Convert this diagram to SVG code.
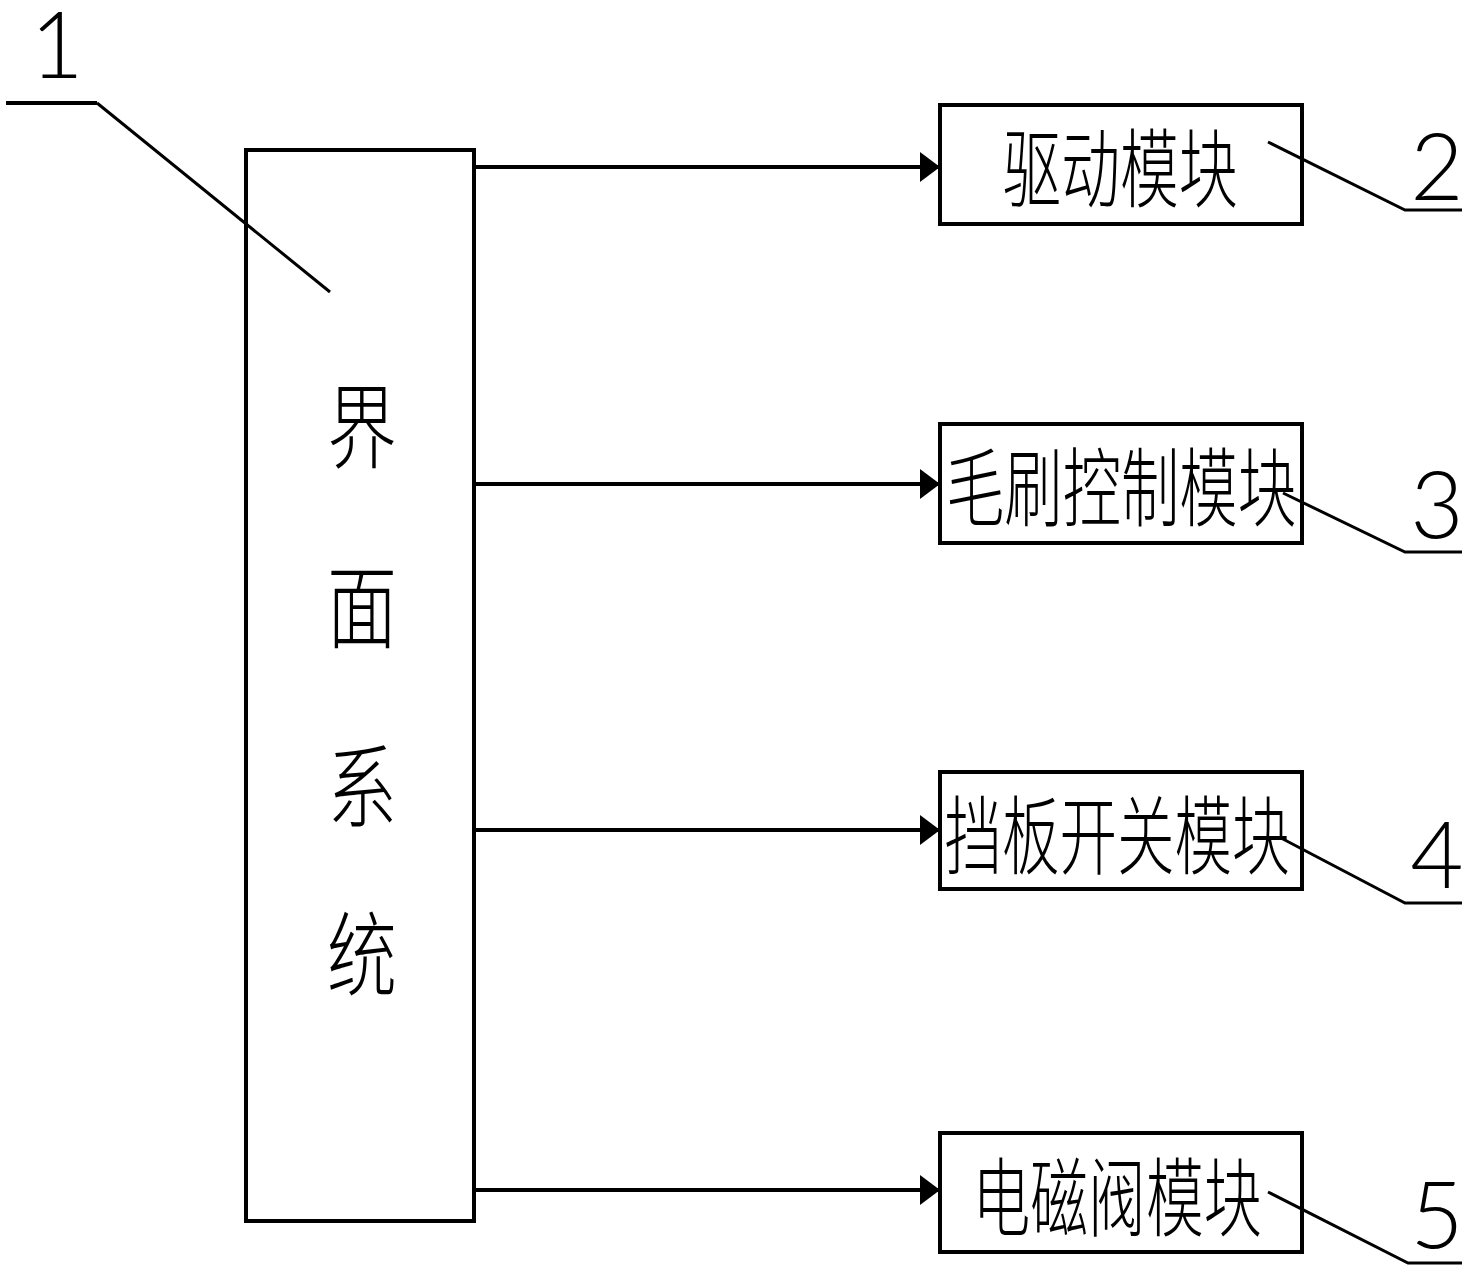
<svg xmlns="http://www.w3.org/2000/svg" width="1471" height="1275" viewBox="0 0 1471 1275">
<style>
.box{fill:#fff;stroke:#000;stroke-width:4}
.ln{fill:none;stroke:#000;stroke-width:4}
.ld{fill:none;stroke:#000;stroke-width:3}
.cjk{font-family:"Noto Sans CJK SC","Noto Sans CJK JP",sans-serif;font-weight:300;fill:#000;text-anchor:middle;dominant-baseline:central}
.num{font-family:Lato,"Liberation Sans",sans-serif;font-weight:300;font-size:92px;fill:#000;text-anchor:middle}
</style>
<defs>
<marker id="ah" markerWidth="24" markerHeight="32" refX="22" refY="16" orient="auto" markerUnits="userSpaceOnUse">
<path d="M2,1 L22,16 L2,31 Z" fill="#000"/>
</marker>
</defs>
<rect width="1471" height="1275" fill="#fff"/>
<g id="connectors">
<line class="ln" x1="474" y1="167" x2="940" y2="167" marker-end="url(#ah)"/>
<line class="ln" x1="474" y1="484" x2="940" y2="484" marker-end="url(#ah)"/>
<line class="ln" x1="474" y1="830" x2="940" y2="830" marker-end="url(#ah)"/>
<line class="ln" x1="474" y1="1190" x2="940" y2="1190" marker-end="url(#ah)"/>
</g>
<g id="node-1">
<rect class="box" x="246" y="150" width="228" height="1071"/>
<text class="cjk" x="362" y="420" font-size="92" textLength="70" lengthAdjust="spacingAndGlyphs">界</text>
<text class="cjk" x="362" y="600" font-size="92" textLength="70" lengthAdjust="spacingAndGlyphs">面</text>
<text class="cjk" x="362" y="780" font-size="92" textLength="70" lengthAdjust="spacingAndGlyphs">系</text>
<text class="cjk" x="362" y="948" font-size="92" textLength="70" lengthAdjust="spacingAndGlyphs">统</text>
</g>
<g id="node-2">
<rect class="box" x="940" y="105" width="362" height="119"/>
<text class="cjk" x="1120" y="163" font-size="86" textLength="235" lengthAdjust="spacingAndGlyphs">驱动模块</text>
</g>
<g id="node-3">
<rect class="box" x="940" y="424" width="362" height="119"/>
<text class="cjk" x="1121" y="482" font-size="86" textLength="350" lengthAdjust="spacingAndGlyphs">毛刷控制模块</text>
</g>
<g id="node-4">
<rect class="box" x="940" y="772" width="362" height="117"/>
<text class="cjk" x="1117" y="830" font-size="86" textLength="345" lengthAdjust="spacingAndGlyphs">挡板开关模块</text>
</g>
<g id="node-5">
<rect class="box" x="940" y="1133" width="362" height="119"/>
<text class="cjk" x="1117" y="1192" font-size="86" textLength="289" lengthAdjust="spacingAndGlyphs">电磁阀模块</text>
</g>
<g id="label-1">
<text class="num" x="57" y="78">1</text>
<line class="ln" x1="6" y1="103" x2="97" y2="103"/>
<line class="ld" x1="97" y1="103" x2="330" y2="292"/>
</g>
<g id="label-2">
<text class="num" x="1437" y="200">2</text>
<polyline class="ld" points="1268,142 1405,210 1462,210"/>
</g>
<g id="label-3">
<text class="num" x="1437" y="538">3</text>
<polyline class="ld" points="1283,493 1405,552 1462,552"/>
</g>
<g id="label-4">
<text class="num" x="1437" y="888">4</text>
<polyline class="ld" points="1281,838 1405,903 1462,903"/>
</g>
<g id="label-5">
<text class="num" x="1437" y="1248">5</text>
<polyline class="ld" points="1268,1192 1408,1263 1462,1263"/>
</g>
</svg>
